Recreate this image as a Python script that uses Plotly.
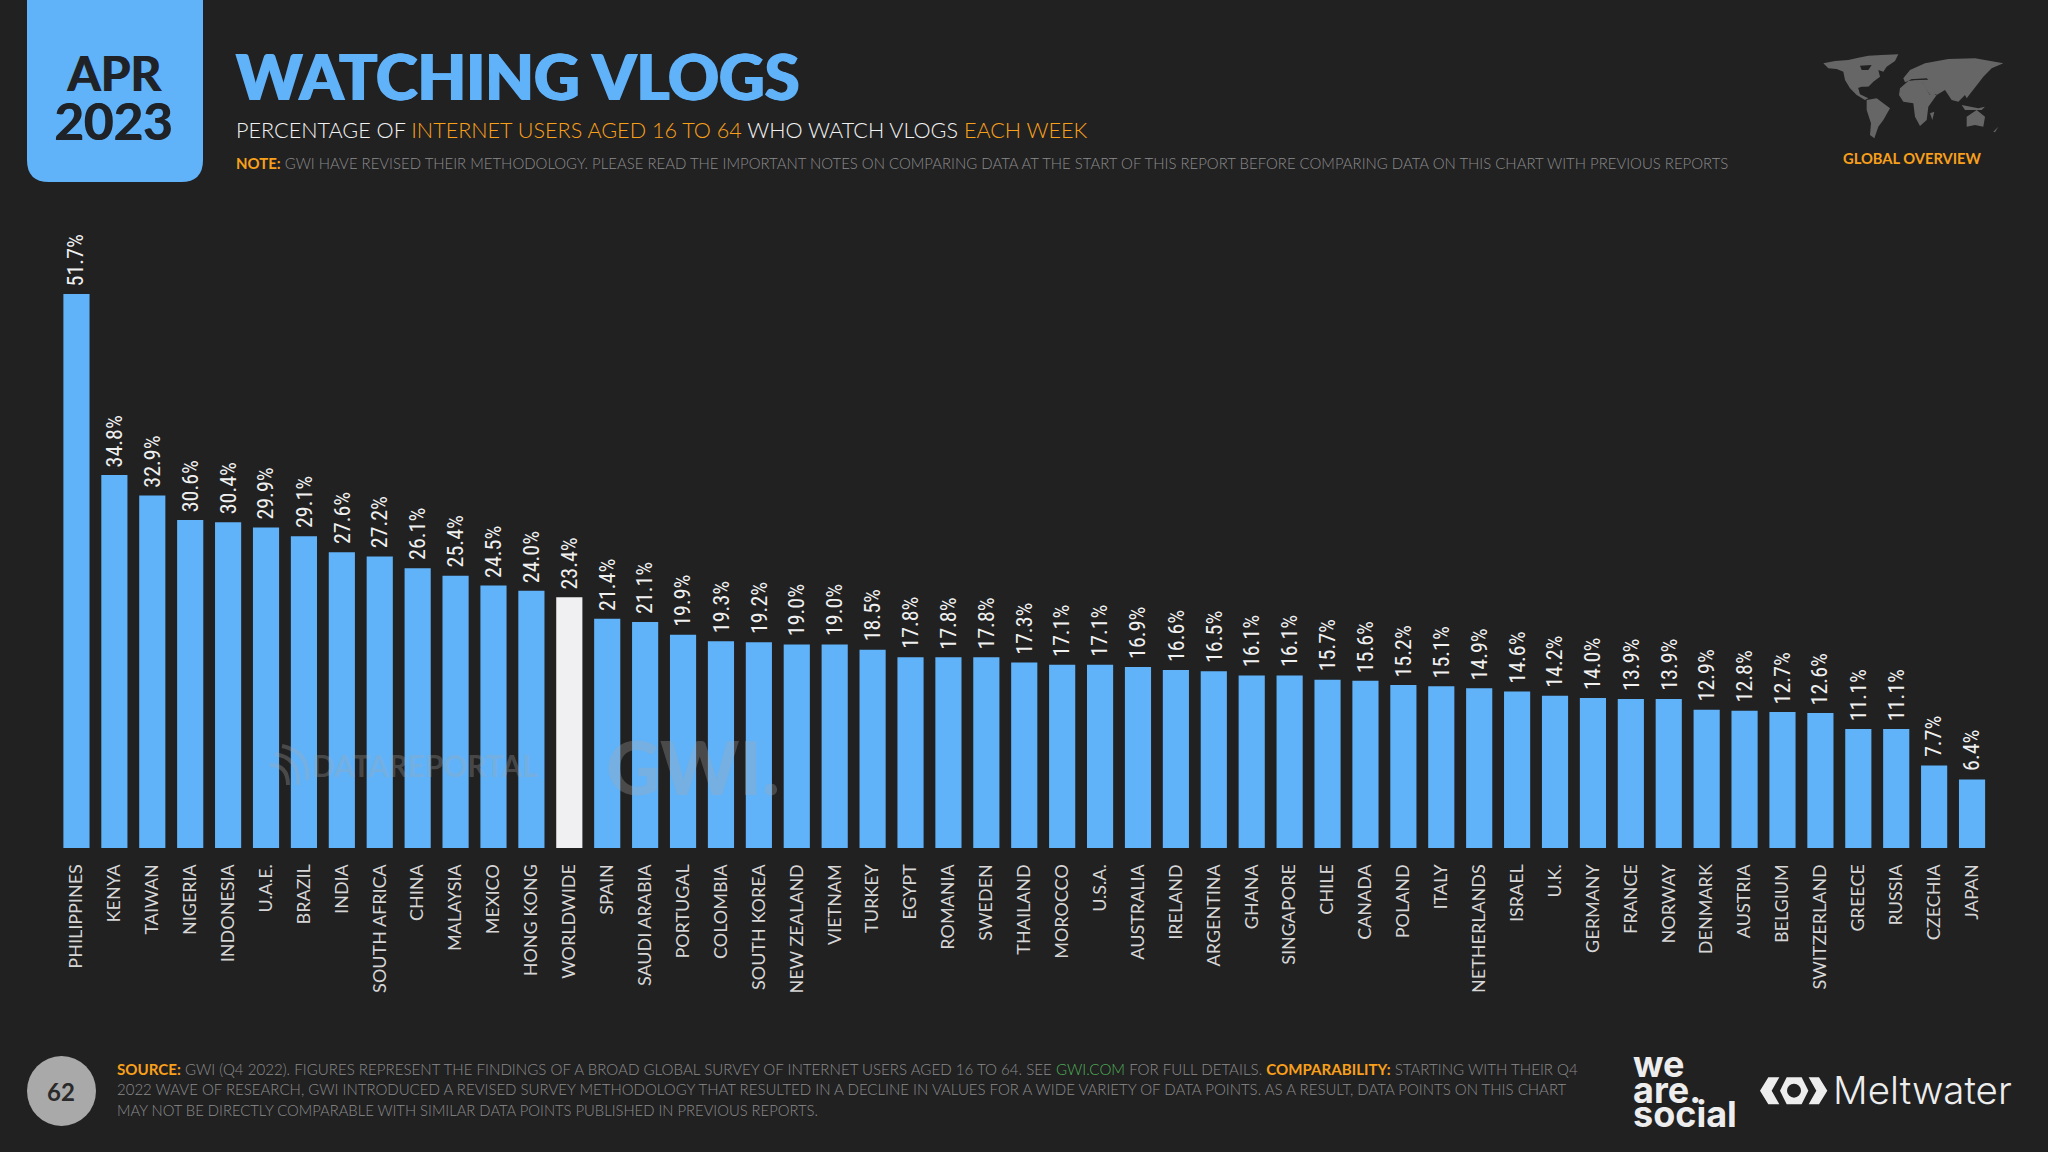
import plotly.graph_objects as go

WIDTH = 2048
HEIGHT = 1152

countries = [
    "PHILIPPINES", "KENYA", "TAIWAN", "NIGERIA", "INDONESIA", "U.A.E.", "BRAZIL", "INDIA",
    "SOUTH AFRICA", "CHINA", "MALAYSIA", "MEXICO", "HONG KONG", "WORLDWIDE", "SPAIN",
    "SAUDI ARABIA", "PORTUGAL", "COLOMBIA", "SOUTH KOREA", "NEW ZEALAND", "VIETNAM", "TURKEY",
    "EGYPT", "ROMANIA", "SWEDEN", "THAILAND", "MOROCCO", "U.S.A.", "AUSTRALIA", "IRELAND",
    "ARGENTINA", "GHANA", "SINGAPORE", "CHILE", "CANADA", "POLAND", "ITALY", "NETHERLANDS",
    "ISRAEL", "U.K.", "GERMANY", "FRANCE", "NORWAY", "DENMARK", "AUSTRIA", "BELGIUM",
    "SWITZERLAND", "GREECE", "RUSSIA", "CZECHIA", "JAPAN",
]
vlog_share = [
    51.7, 34.8, 32.9, 30.6, 30.4, 29.9, 29.1, 27.6, 27.2, 26.1, 25.4, 24.5, 24.0, 23.4, 21.4,
    21.1, 19.9, 19.3, 19.2, 19.0, 19.0, 18.5, 17.8, 17.8, 17.8, 17.3, 17.1, 17.1, 16.9, 16.6,
    16.5, 16.1, 16.1, 15.7, 15.6, 15.2, 15.1, 14.9, 14.6, 14.2, 14.0, 13.9, 13.9, 12.9, 12.8,
    12.7, 12.6, 11.1, 11.1, 7.7, 6.4,
]

BG = "#212122"
BLUE = "#60b2f9"
WHITE_BAR = "#f0eff1"
ORANGE = "#f9a01b"
GREY_TEXT = "#8b8b8b"
DARK = "#1f2226"
WATERMARK = "rgba(170,170,170,0.3)"


def px_x(x):
    return x / WIDTH


def px_y(y):
    return 1 - y / HEIGHT


def label(text, x, y, size, color, family="Lato", weight=400, xanchor="left", shadow=None):
    font = dict(family=family, size=size, color=color, weight=weight)
    if shadow:
        font["shadow"] = shadow
    return dict(
        text=text, x=px_x(x), y=px_y(y), xref="paper", yref="paper",
        xanchor=xanchor, yanchor="middle", align="left", showarrow=False,
        font=font,
    )


def poly(points, ox, oy, fill, scale=3.0):
    coords = [f"{px_x(ox + a / scale):.5f},{px_y(oy + b / scale):.5f}" for a, b in points]
    path = "M" + " L".join(coords) + " Z"
    return dict(type="path", xref="paper", yref="paper", path=path,
                fillcolor=fill, line=dict(width=0))


def circle(cx, cy, r, fill):
    return dict(type="circle", xref="paper", yref="paper",
                x0=px_x(cx - r), x1=px_x(cx + r), y0=px_y(cy + r), y1=px_y(cy - r),
                fillcolor=fill, line=dict(width=0))


def arc(x0, y0, cx, cy, x1, y1, color, width):
    path = f"M{px_x(x0):.5f},{px_y(y0):.5f} Q{px_x(cx):.5f},{px_y(cy):.5f} {px_x(x1):.5f},{px_y(y1):.5f}"
    return dict(type="path", xref="paper", yref="paper", path=path, line=dict(color=color, width=width))


bar_colors = [WHITE_BAR if c == "WORLDWIDE" else BLUE for c in countries]

fig = go.Figure(
    go.Bar(
        x=countries,
        y=vlog_share,
        marker=dict(color=bar_colors, line=dict(width=0)),
        cliponaxis=False,
        hoverinfo="x+y",
    )
)

# value labels as annotations, bar text sits too close to the bar
value_labels = [
    dict(
        x=name, y=value, text=f"{value:.1f}%", textangle=-90,
        xref="x", yref="y", xanchor="center", yanchor="bottom", yshift=6, showarrow=False,
        font=dict(family="Roboto Condensed", size=22, color="#f0f0f0"),
    )
    for name, value in zip(countries, vlog_share)
]

# badge top-left with rounded bottom corners
badge = (
    f"M{px_x(27)},{px_y(0)} L{px_x(203)},{px_y(0)} L{px_x(203)},{px_y(160)} "
    f"Q{px_x(203)},{px_y(182)} {px_x(181)},{px_y(182)} L{px_x(49)},{px_y(182)} "
    f"Q{px_x(27)},{px_y(182)} {px_x(27)},{px_y(160)} Z"
)
shapes = [dict(type="path", xref="paper", yref="paper", path=badge, fillcolor=BLUE, line=dict(width=0))]

# page number disc
shapes.append(dict(type="circle", xref="paper", yref="paper",
                   x0=px_x(27), x1=px_x(96), y0=px_y(1126), y1=px_y(1056),
                   fillcolor="#a9a9a9", line=dict(width=0)))

# rough world map
MAP_X, MAP_Y = 1815, 45
MAP_GREY = "#666666"
land = [
    [(25, 55), (60, 48), (100, 45), (130, 38), (160, 32), (200, 30), (250, 28), (240, 48), (215, 65),
     (205, 80), (190, 75), (195, 95), (175, 110), (160, 125), (140, 125), (130, 130), (135, 148),
     (160, 160), (150, 165), (125, 150), (105, 130), (90, 105), (85, 80), (65, 72), (40, 70)],
    [(155, 165), (185, 160), (225, 190), (205, 225), (190, 245), (178, 280), (165, 270), (168, 235), (155, 195)],
    [(255, 130), (280, 108), (320, 108), (345, 150), (365, 150), (340, 185), (335, 225), (315, 243),
     (300, 215), (295, 175), (265, 170), (252, 150)],
    [(265, 100), (285, 75), (330, 55), (400, 42), (480, 40), (565, 55), (530, 70), (505, 95), (490, 115),
     (470, 140), (455, 160), (450, 150), (430, 170), (410, 165), (390, 135), (365, 150), (345, 130),
     (320, 112), (285, 106), (270, 112)],
    [(320, 112), (345, 125), (375, 140), (350, 155), (335, 135)],
    [(455, 215), (485, 195), (510, 215), (505, 245), (480, 240), (455, 245)],
    [(345, 205), (358, 200), (352, 225)],
    [(535, 260), (550, 245), (540, 262)],
    [(440, 180), (490, 190), (510, 185), (500, 195), (450, 195)],
]
for part in land:
    shapes.append(poly(part, MAP_X, MAP_Y, MAP_GREY))
shapes.append(poly([(135, 62), (170, 60), (160, 75), (140, 75)], MAP_X, MAP_Y, BG))
shapes.append(poly([(130, 128), (160, 125), (160, 140), (135, 142)], MAP_X, MAP_Y, BG))
shapes.append(poly([(285, 103), (335, 100), (340, 104), (290, 106)], MAP_X, MAP_Y, BG))

# Meltwater eye logo
LOGO_X, LOGO_Y = 1620, 1045
LOGO = "#ededed"
shapes.append(poly([(420, 137), (445, 97), (478, 97), (455, 137), (478, 178), (445, 178)], LOGO_X, LOGO_Y, LOGO))
shapes.append(poly([(622, 137), (597, 97), (566, 97), (589, 137), (566, 178), (597, 178)], LOGO_X, LOGO_Y, LOGO))
shapes.append(poly([(480, 137), (500, 97), (545, 97), (565, 137), (545, 178), (500, 178)], LOGO_X, LOGO_Y, LOGO))
shapes.append(circle(LOGO_X + 522 / 3, LOGO_Y + 137 / 3, 7, BG))

# DataReportal watermark mark
shapes.append(arc(270, 765, 288, 765, 288, 785, WATERMARK, 4))
shapes.append(arc(275, 754, 300, 758, 298, 785, WATERMARK, 4))
shapes.append(arc(282, 746, 310, 752, 307, 780, WATERMARK, 4))

ACCENT = f"<span style='color:{ORANGE}'>"
title_line = (
    f"PERCENTAGE OF {ACCENT}INTERNET USERS AGED 16 TO 64</span> "
    f"WHO WATCH VLOGS {ACCENT}EACH WEEK</span>"
)
note_line = (
    f"{ACCENT}<b>NOTE:</b></span> GWI HAVE REVISED THEIR METHODOLOGY. PLEASE READ THE "
    "IMPORTANT NOTES ON COMPARING DATA AT THE START OF THIS REPORT BEFORE COMPARING DATA ON THIS CHART "
    "WITH PREVIOUS REPORTS"
)
source_1 = (
    f"{ACCENT}<b>SOURCE:</b></span> GWI (Q4 2022). FIGURES REPRESENT THE FINDINGS OF A "
    "BROAD GLOBAL SURVEY OF INTERNET USERS AGED 16 TO 64. SEE <span style='color:#4fae57'>GWI.COM</span> "
    f"FOR FULL DETAILS. {ACCENT}<b>COMPARABILITY:</b></span> STARTING WITH THEIR Q4"
)
source_2 = (
    "2022 WAVE OF RESEARCH, GWI INTRODUCED A REVISED SURVEY METHODOLOGY THAT RESULTED IN A DECLINE IN VALUES "
    "FOR A WIDE VARIETY OF DATA POINTS. AS A RESULT, DATA POINTS ON THIS CHART"
)
source_3 = "MAY NOT BE DIRECTLY COMPARABLE WITH SIMILAR DATA POINTS PUBLISHED IN PREVIOUS REPORTS."

annotations = value_labels + [
    label("APR", 113, 72, 48, DARK, weight=700, xanchor="center", shadow=f"1px 0 0 {DARK}"),
    label("2023", 113, 121, 51, DARK, weight=700, xanchor="center", shadow=f"1px 0 0 {DARK}"),
    label("WATCHING VLOGS", 234, 76, 63, BLUE, weight=900, shadow=f"1px 0 0 {BLUE}, -1px 0 0 {BLUE}"),
    label(title_line, 234, 130, 21.6, "#f2f2f2", weight=300),
    label(note_line, 234, 163, 14.95, GREY_TEXT, weight=300),
    label("GLOBAL OVERVIEW", 1912, 158, 14.7, ORANGE, weight=700, xanchor="center"),
    label(source_1, 115, 1069, 15.1, GREY_TEXT, weight=300),
    label(source_2, 115, 1089, 15, GREY_TEXT, weight=300),
    label(source_3, 115, 1110, 14.8, GREY_TEXT, weight=300),
    label("62", 61, 1091, 24, "#2a2a2a", weight=700, xanchor="center"),
    label("we", 1631, 1064, 36, "#ededed", family="Inter", weight=700),
    label("are.", 1631, 1090, 36, "#ededed", family="Inter", weight=700),
    label("social", 1631, 1114, 36, "#ededed", family="Inter", weight=700),
    label("Meltwater", 1831, 1090, 38.5, "#ededed", family="Inter", weight=300),
    label("DATAREPORTAL", 310, 765, 29.7, WATERMARK, weight=700),
    label("GWI.", 604, 766, 75, WATERMARK, weight=900),
]

fig.update_layout(
    width=WIDTH,
    height=HEIGHT,
    autosize=False,
    margin=dict(l=0, r=0, t=0, b=0),
    paper_bgcolor=BG,
    plot_bgcolor=BG,
    showlegend=False,
    bargap=0.31,
    shapes=shapes,
    annotations=annotations,
    xaxis=dict(
        domain=[px_x(57.5), px_x(1991)],
        type="category",
        categoryorder="array",
        categoryarray=countries,
        tickangle=-90,
        ticks="outside",
        ticklen=8,
        tickcolor="rgba(0,0,0,0)",
        tickfont=dict(family="Lato", size=18, color="#d6d6d6"),
        showline=False,
        showgrid=False,
        zeroline=False,
    ),
    yaxis=dict(
        domain=[px_y(848), px_y(848 - 10.716 * 55)],
        range=[0, 55],
        visible=False,
        showgrid=False,
        zeroline=False,
    ),
)

# drop the browser's default page margin so the slide fills the window
fig.write_html(
    "out.html",
    config={"displayModeBar": False},
    post_script=f"document.body.style.margin='0';document.body.style.background='{BG}';",
)
